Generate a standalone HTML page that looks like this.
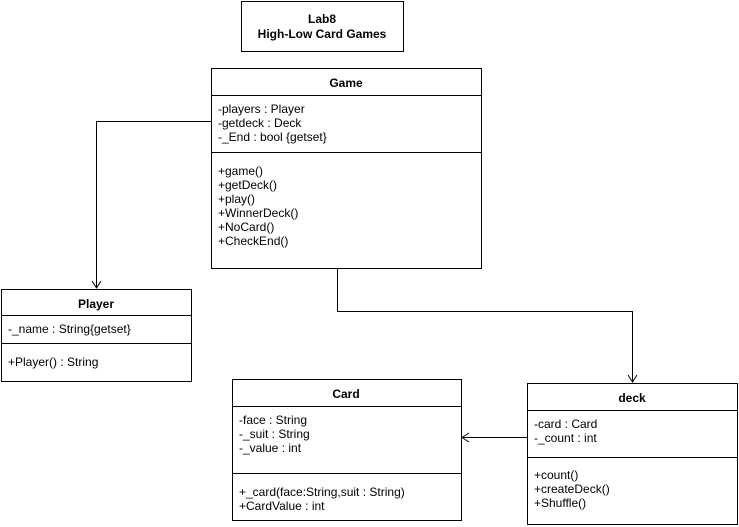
<!DOCTYPE html>
<html><head><style>html,body{margin:0;padding:0;background:#fff;}svg{display:block;}text{font-family:"Liberation Sans",Arial,sans-serif;font-size:12px;fill:#000;}.b{font-weight:bold;}</style></head>
<body>
<svg width="739" height="527" xmlns="http://www.w3.org/2000/svg">
<g fill="#fff" stroke="#000" stroke-width="1">
<rect x="241.5" y="1.5" width="162" height="50"/>
<rect x="211.5" y="68.5" width="270" height="200"/>
<line x1="211.5" y1="95.5" x2="481.5" y2="95.5"/>
<line x1="211.5" y1="152.5" x2="481.5" y2="152.5"/>
<rect x="1.5" y="289.5" width="190" height="92"/>
<line x1="1.5" y1="315.5" x2="191.5" y2="315.5"/>
<line x1="1.5" y1="343.5" x2="191.5" y2="343.5"/>
<rect x="232.5" y="379.5" width="229" height="141"/>
<line x1="232.5" y1="406.5" x2="461.5" y2="406.5"/>
<line x1="232.5" y1="473.5" x2="461.5" y2="473.5"/>
<rect x="527.5" y="383.5" width="210" height="141"/>
<line x1="527.5" y1="410.5" x2="737.5" y2="410.5"/>
<line x1="527.5" y1="457.5" x2="737.5" y2="457.5"/>
</g>
<g fill="none" stroke="#000" stroke-width="1">
<polyline points="211,121.5 96.5,121.5 96.5,288"/>
<polyline points="92,281 96.5,288 101,281"/>
<polyline points="337.5,268 337.5,311.5 632.5,311.5 632.5,382"/>
<polyline points="628,375 632.5,382 637,375"/>
<polyline points="527,437.5 462,437.5"/>
<polyline points="469,433 462,437.5 469,442"/>
</g>
<text class="b" x="322" y="23" text-anchor="middle">Lab8</text>
<text class="b" x="322" y="38" text-anchor="middle">High-Low Card Games</text>
<text class="b" x="346" y="87" text-anchor="middle">Game</text>
<text x="218" y="113">-players : Player</text>
<text x="218" y="127">-getdeck : Deck</text>
<text x="218" y="141">-_End : bool {getset}</text>
<text x="218" y="175">+game()</text>
<text x="218" y="189">+getDeck()</text>
<text x="218" y="203">+play()</text>
<text x="218" y="217">+WinnerDeck()</text>
<text x="218" y="231">+NoCard()</text>
<text x="218" y="245">+CheckEnd()</text>
<text class="b" x="96" y="308" text-anchor="middle">Player</text>
<text x="8" y="333">-_name : String{getset}</text>
<text x="8" y="366">+Player() : String</text>
<text class="b" x="346" y="398" text-anchor="middle">Card</text>
<text x="239" y="424">-face : String</text>
<text x="239" y="438">-_suit : String</text>
<text x="239" y="452">-_value : int</text>
<text x="239" y="496">+_card(face:String,suit : String)</text>
<text x="239" y="510">+CardValue : int</text>
<text class="b" x="632" y="402" text-anchor="middle">deck</text>
<text x="534" y="428">-card : Card</text>
<text x="534" y="442">-_count : int</text>
<text x="534" y="479">+count()</text>
<text x="534" y="493">+createDeck()</text>
<text x="534" y="507">+Shuffle()</text>
</svg>
</body></html>
